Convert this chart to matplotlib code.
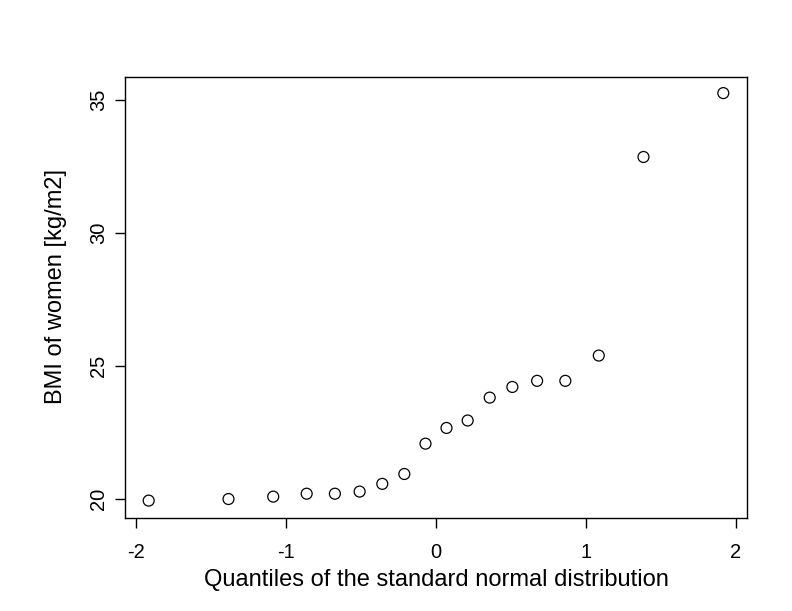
import matplotlib
matplotlib.use("Agg")
import matplotlib.pyplot as plt

# theoretical normal quantiles (x) and sorted BMI values (y)
quantiles = [-1.915, -1.383, -1.085, -0.862, -0.674, -0.509, -0.358, -0.211, -0.070,
             0.070, 0.211, 0.358, 0.509, 0.674, 0.862, 1.085, 1.383, 1.915]
bmi = [19.95, 20.01, 20.10, 20.21, 20.21, 20.29, 20.58, 20.95, 22.09,
       22.68, 22.96, 23.82, 24.22, 24.45, 24.45, 25.40, 32.86, 35.26]
xticks = [-2, -1, 0, 1, 2]
yticks = [20, 25, 30, 35]

plt.rcParams['font.family'] = ['Liberation Sans', 'DejaVu Sans']

fig = plt.figure(figsize=(7.92, 6.11), dpi=100)
ax = fig.add_axes([0.1578, 0.1522, 0.7854, 0.7218])

ax.scatter(quantiles, bmi, s=62, facecolors='none', edgecolors='black', linewidths=0.9)

ax.set_xlim(-2.073, 2.073)
ax.set_ylim(19.297, 35.865)
ax.set_xticks(xticks)
ax.set_yticks(yticks)
ax.set_xticklabels([str(t) for t in xticks])
ax.set_yticklabels([str(t) for t in yticks], rotation=90, va='center')

ax.tick_params(axis='both', direction='out', length=7, width=1, labelsize=14.5, color='black')
ax.tick_params(axis='x', pad=11)
ax.tick_params(axis='y', pad=5)
for sp in ax.spines.values():
    sp.set_linewidth(1)
    sp.set_color('black')

ax.set_xlabel("Quantiles of the standard normal distribution", fontsize=17, labelpad=5)
ax.set_ylabel("BMI of women [kg/m2]", fontsize=17, labelpad=14)
ax.yaxis.set_label_coords(-0.093, 0.525)

fig.savefig("out.png", dpi=100)
